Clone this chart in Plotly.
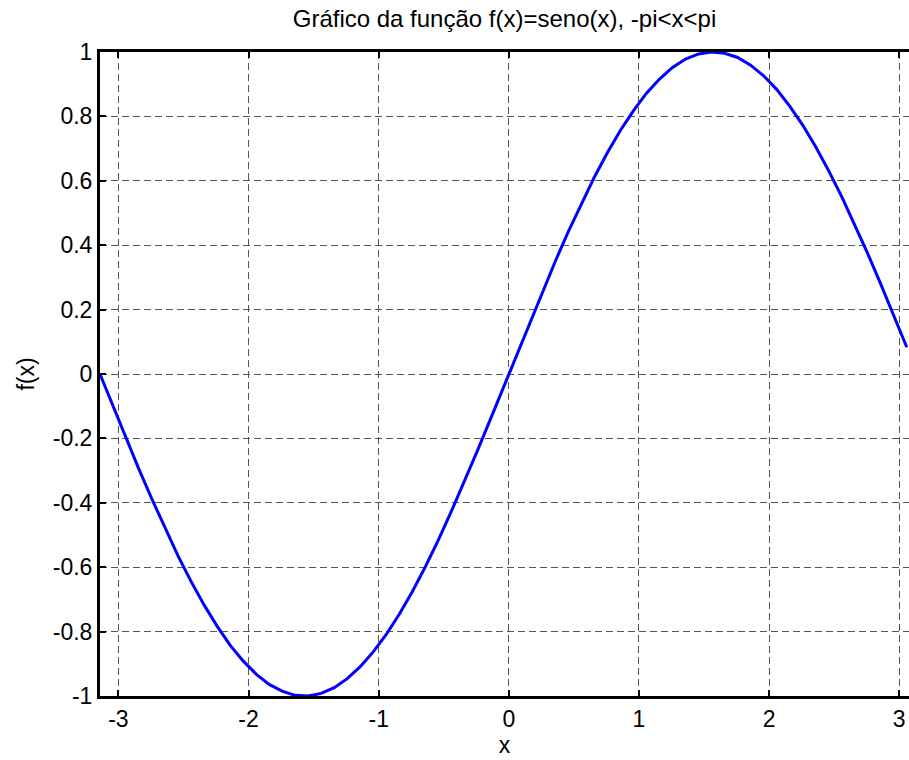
import plotly.graph_objects as go

x_vals = [-3.142, -3.042, -2.942, -2.842, -2.742, -2.642, -2.542, -2.442, -2.342, -2.242,
          -2.142, -2.042, -1.942, -1.842, -1.742, -1.642, -1.542, -1.442, -1.342, -1.242,
          -1.142, -1.042, -0.942, -0.842, -0.742, -0.642, -0.542, -0.442, -0.342, -0.242,
          -0.142, -0.042, 0.058, 0.158, 0.258, 0.358, 0.458, 0.558, 0.658, 0.758,
          0.858, 0.958, 1.058, 1.158, 1.258, 1.358, 1.458, 1.558, 1.658, 1.758,
          1.858, 1.958, 2.058, 2.158, 2.258, 2.358, 2.458, 2.558, 2.658, 2.758,
          2.858, 2.958, 3.058]
y_vals = [0.000, -0.100, -0.199, -0.296, -0.389, -0.479, -0.565, -0.644, -0.717, -0.783,
          -0.842, -0.891, -0.932, -0.964, -0.985, -0.998, -1.000, -0.992, -0.974, -0.946,
          -0.909, -0.863, -0.809, -0.746, -0.676, -0.599, -0.516, -0.427, -0.335, -0.239,
          -0.141, -0.042, 0.058, 0.158, 0.256, 0.351, 0.443, 0.530, 0.612, 0.688,
          0.757, 0.818, 0.872, 0.916, 0.952, 0.978, 0.994, 1.000, 0.996, 0.983,
          0.959, 0.926, 0.884, 0.832, 0.773, 0.706, 0.631, 0.551, 0.465, 0.374,
          0.279, 0.182, 0.083]
x_ticks = [-3, -2, -1, 0, 1, 2, 3]
x_tick_text = ["-3", "-2", "-1", "0", "1", "2", "3"]
y_ticks = [-1, -0.8, -0.6, -0.4, -0.2, 0, 0.2, 0.4, 0.6, 0.8, 1]
y_tick_text = ["-1", "-0.8", "-0.6", "-0.4", "-0.2", "0", "0.2", "0.4", "0.6", "0.8", "1"]

font_family = "Liberation Sans, Arial, sans-serif"
fsize = 23

fig = go.Figure()
fig.add_trace(go.Scatter(x=x_vals, y=y_vals, mode="lines",
                         line=dict(color="#0000ff", width=3), showlegend=False))

axis_common = dict(
    showline=True, linecolor="black", linewidth=3,
    ticks="inside", ticklen=6, tickwidth=2, tickcolor="black",
    showgrid=True, gridcolor="#555555", gridwidth=1, griddash="7px,4px",
    zeroline=False,
    tickfont=dict(family=font_family, size=fsize, color="black"),
)

fig.update_layout(
    width=909, height=760,
    margin=dict(l=100, r=0, t=52, b=64),
    paper_bgcolor="white", plot_bgcolor="white",
    title=dict(text="Gráfico da função f(x)=seno(x), -pi<x<pi",
               x=0.555, xanchor="center", y=0.976, yanchor="middle",
               font=dict(family=font_family, size=24, color="black")),
    xaxis=dict(range=[-3.1416, 3.075], tickvals=x_ticks, ticktext=x_tick_text, mirror="ticks",
               ticklabelstandoff=0,
               title=dict(text="x", font=dict(family=font_family, size=fsize, color="black"), standoff=4),
               **axis_common),
    yaxis=dict(range=[-1, 1], tickvals=y_ticks, ticktext=y_tick_text, mirror=False,
               title=dict(text="f(x)", font=dict(family=font_family, size=fsize, color="black"), standoff=12),
               **axis_common),
)

fig.write_html("out.html")
